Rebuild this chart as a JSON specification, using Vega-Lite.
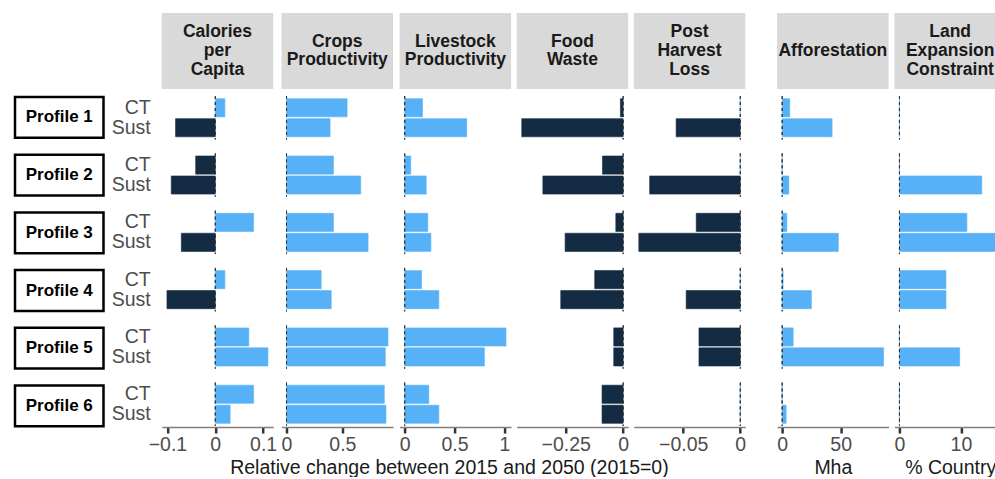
{
  "$schema": "https://vega.github.io/schema/vega-lite/v6.json",
  "padding": {"left": 13, "top": 12, "right": 0, "bottom": 0},
  "datasets": {
    "profiles": [
      {"profile": "Profile 1"}, {"profile": "Profile 2"}, {"profile": "Profile 3"},
      {"profile": "Profile 4"}, {"profile": "Profile 5"}, {"profile": "Profile 6"}
    ],
    "bars": [
      {"panel": "cal", "profile": "Profile 1", "scenario": "CT", "value": 0.020},
      {"panel": "cal", "profile": "Profile 1", "scenario": "Sust", "value": -0.083},
      {"panel": "cal", "profile": "Profile 2", "scenario": "CT", "value": -0.041},
      {"panel": "cal", "profile": "Profile 2", "scenario": "Sust", "value": -0.092},
      {"panel": "cal", "profile": "Profile 3", "scenario": "CT", "value": 0.080},
      {"panel": "cal", "profile": "Profile 3", "scenario": "Sust", "value": -0.071},
      {"panel": "cal", "profile": "Profile 4", "scenario": "CT", "value": 0.020},
      {"panel": "cal", "profile": "Profile 4", "scenario": "Sust", "value": -0.101},
      {"panel": "cal", "profile": "Profile 5", "scenario": "CT", "value": 0.070},
      {"panel": "cal", "profile": "Profile 5", "scenario": "Sust", "value": 0.110},
      {"panel": "cal", "profile": "Profile 6", "scenario": "CT", "value": 0.080},
      {"panel": "cal", "profile": "Profile 6", "scenario": "Sust", "value": 0.031},

      {"panel": "crops", "profile": "Profile 1", "scenario": "CT", "value": 0.542},
      {"panel": "crops", "profile": "Profile 1", "scenario": "Sust", "value": 0.390},
      {"panel": "crops", "profile": "Profile 2", "scenario": "CT", "value": 0.420},
      {"panel": "crops", "profile": "Profile 2", "scenario": "Sust", "value": 0.664},
      {"panel": "crops", "profile": "Profile 3", "scenario": "CT", "value": 0.420},
      {"panel": "crops", "profile": "Profile 3", "scenario": "Sust", "value": 0.730},
      {"panel": "crops", "profile": "Profile 4", "scenario": "CT", "value": 0.310},
      {"panel": "crops", "profile": "Profile 4", "scenario": "Sust", "value": 0.400},
      {"panel": "crops", "profile": "Profile 5", "scenario": "CT", "value": 0.908},
      {"panel": "crops", "profile": "Profile 5", "scenario": "Sust", "value": 0.884},
      {"panel": "crops", "profile": "Profile 6", "scenario": "CT", "value": 0.875},
      {"panel": "crops", "profile": "Profile 6", "scenario": "Sust", "value": 0.890},

      {"panel": "live", "profile": "Profile 1", "scenario": "CT", "value": 0.179},
      {"panel": "live", "profile": "Profile 1", "scenario": "Sust", "value": 0.623},
      {"panel": "live", "profile": "Profile 2", "scenario": "CT", "value": 0.061},
      {"panel": "live", "profile": "Profile 2", "scenario": "Sust", "value": 0.216},
      {"panel": "live", "profile": "Profile 3", "scenario": "CT", "value": 0.232},
      {"panel": "live", "profile": "Profile 3", "scenario": "Sust", "value": 0.263},
      {"panel": "live", "profile": "Profile 4", "scenario": "CT", "value": 0.169},
      {"panel": "live", "profile": "Profile 4", "scenario": "Sust", "value": 0.343},
      {"panel": "live", "profile": "Profile 5", "scenario": "CT", "value": 1.017},
      {"panel": "live", "profile": "Profile 5", "scenario": "Sust", "value": 0.800},
      {"panel": "live", "profile": "Profile 6", "scenario": "CT", "value": 0.242},
      {"panel": "live", "profile": "Profile 6", "scenario": "Sust", "value": 0.343},

      {"panel": "food", "profile": "Profile 1", "scenario": "CT", "value": -0.012},
      {"panel": "food", "profile": "Profile 1", "scenario": "Sust", "value": -0.442},
      {"panel": "food", "profile": "Profile 2", "scenario": "CT", "value": -0.090},
      {"panel": "food", "profile": "Profile 2", "scenario": "Sust", "value": -0.350},
      {"panel": "food", "profile": "Profile 3", "scenario": "CT", "value": -0.032},
      {"panel": "food", "profile": "Profile 3", "scenario": "Sust", "value": -0.253},
      {"panel": "food", "profile": "Profile 4", "scenario": "CT", "value": -0.124},
      {"panel": "food", "profile": "Profile 4", "scenario": "Sust", "value": -0.272},
      {"panel": "food", "profile": "Profile 5", "scenario": "CT", "value": -0.041},
      {"panel": "food", "profile": "Profile 5", "scenario": "Sust", "value": -0.041},
      {"panel": "food", "profile": "Profile 6", "scenario": "CT", "value": -0.092},
      {"panel": "food", "profile": "Profile 6", "scenario": "Sust", "value": -0.092},

      {"panel": "post", "profile": "Profile 1", "scenario": "CT", "value": 0},
      {"panel": "post", "profile": "Profile 1", "scenario": "Sust", "value": -0.0562},
      {"panel": "post", "profile": "Profile 2", "scenario": "CT", "value": 0},
      {"panel": "post", "profile": "Profile 2", "scenario": "Sust", "value": -0.0794},
      {"panel": "post", "profile": "Profile 3", "scenario": "CT", "value": -0.0386},
      {"panel": "post", "profile": "Profile 3", "scenario": "Sust", "value": -0.0889},
      {"panel": "post", "profile": "Profile 4", "scenario": "CT", "value": 0},
      {"panel": "post", "profile": "Profile 4", "scenario": "Sust", "value": -0.0474},
      {"panel": "post", "profile": "Profile 5", "scenario": "CT", "value": -0.0362},
      {"panel": "post", "profile": "Profile 5", "scenario": "Sust", "value": -0.0362},
      {"panel": "post", "profile": "Profile 6", "scenario": "CT", "value": 0},
      {"panel": "post", "profile": "Profile 6", "scenario": "Sust", "value": 0},

      {"panel": "aff", "profile": "Profile 1", "scenario": "CT", "value": 6.5},
      {"panel": "aff", "profile": "Profile 1", "scenario": "Sust", "value": 42.7},
      {"panel": "aff", "profile": "Profile 2", "scenario": "CT", "value": 0},
      {"panel": "aff", "profile": "Profile 2", "scenario": "Sust", "value": 5.7},
      {"panel": "aff", "profile": "Profile 3", "scenario": "CT", "value": 4.0},
      {"panel": "aff", "profile": "Profile 3", "scenario": "Sust", "value": 48.0},
      {"panel": "aff", "profile": "Profile 4", "scenario": "CT", "value": 0.8},
      {"panel": "aff", "profile": "Profile 4", "scenario": "Sust", "value": 25.0},
      {"panel": "aff", "profile": "Profile 5", "scenario": "CT", "value": 9.4},
      {"panel": "aff", "profile": "Profile 5", "scenario": "Sust", "value": 86.7},
      {"panel": "aff", "profile": "Profile 6", "scenario": "CT", "value": 0},
      {"panel": "aff", "profile": "Profile 6", "scenario": "Sust", "value": 3.4},

      {"panel": "land", "profile": "Profile 1", "scenario": "CT", "value": 0},
      {"panel": "land", "profile": "Profile 1", "scenario": "Sust", "value": 0},
      {"panel": "land", "profile": "Profile 2", "scenario": "CT", "value": 0},
      {"panel": "land", "profile": "Profile 2", "scenario": "Sust", "value": 13.4},
      {"panel": "land", "profile": "Profile 3", "scenario": "CT", "value": 10.97},
      {"panel": "land", "profile": "Profile 3", "scenario": "Sust", "value": 16.5},
      {"panel": "land", "profile": "Profile 4", "scenario": "CT", "value": 7.57},
      {"panel": "land", "profile": "Profile 4", "scenario": "Sust", "value": 7.57},
      {"panel": "land", "profile": "Profile 5", "scenario": "CT", "value": 0},
      {"panel": "land", "profile": "Profile 5", "scenario": "Sust", "value": 9.8},
      {"panel": "land", "profile": "Profile 6", "scenario": "CT", "value": 0},
      {"panel": "land", "profile": "Profile 6", "scenario": "Sust", "value": 0}
    ]
  },
  "spacing": 5.7,
  "hconcat": [
    {
      "spacing": 6,
      "vconcat": [
        {"data": {"values": [{}]}, "width": 88.5, "height": 76, "mark": {"type": "text", "text": ""}},
        {
          "data": {"name": "profiles"},
          "facet": {"row": {"field": "profile", "type": "nominal", "header": null}},
          "spacing": {"row": 12.7},
          "spec": {
            "width": 88.5, "height": 40.8,
            "view": {"fill": "white", "stroke": "black", "strokeWidth": 2.5},
            "mark": {"type": "text", "fontSize": 17, "fontWeight": "bold", "color": "#000000"},
            "encoding": {"text": {"field": "profile", "type": "nominal"}}
          }
        }
      ]
    },
    {
      "spacing": 2.8,
      "title": {"text": "Relative change between 2015 and 2050 (2015=0)", "orient": "bottom", "anchor": "middle", "fontSize": 19.5, "fontWeight": "normal", "color": "#1a1a1a", "offset": 5, "dx": 21, "baseline": "top"},
      "hconcat": [
        {
          "spacing": 6,
          "vconcat": [
            {"data": {"values": [{}]}, "width": 111.5, "height": 76, "view": {"fill": "#d9d9d9", "stroke": null},
             "mark": {"type": "text", "text": ["Calories", "per", "Capita"], "fontSize": 17.5, "fontWeight": "bold", "lineHeight": 18.8, "dy": -18.8, "color": "#1a1a1a", "baseline": "middle", "align": "center"}},
            {
              "data": {"name": "bars"},
              "transform": [{"filter": "datum.panel === 'cal'"}],
              "facet": {"row": {"field": "profile", "type": "nominal", "header": null}},
              "spacing": {"row": 12.3},
              "spec": {
                "width": 111.5, "height": 43.5,
                "layer": [
                  {"mark": {"type": "bar", "strokeWidth": 0.6},
                   "encoding": {
                     "y": {"field": "scenario", "type": "nominal", "sort": ["CT", "Sust"], "scale": {"paddingInner": 0.09, "paddingOuter": 0.135}, "axis": {"title": null, "ticks": false, "domain": false, "labelPadding": 11.5, "labelFontSize": 19.5, "labelColor": "#4d4d4d"}},
                     "x": {"field": "value", "type": "quantitative", "scale": {"domain": [-0.112, 0.121], "nice": false}, "axis": {"values": [-0.1, 0, 0.1], "format": ".3~r", "title": null}},
                     "color": {"field": "value", "type": "quantitative", "scale": {"type": "threshold", "domain": [0], "range": ["#132B43", "#56B1F7"]}, "legend": null},
                     "stroke": {"field": "value", "type": "quantitative", "scale": {"type": "threshold", "domain": [0], "range": ["#132B43", "#56B1F7"]}, "legend": null}
                   }},
                  {"mark": {"type": "rule", "strokeDash": [3, 3], "color": "#333333", "strokeWidth": 1}, "encoding": {"x": {"datum": 0}}}
                ]
              }
            }
          ]
        },
        {
          "spacing": 5.1,
          "hconcat": [
            {
              "spacing": 6,
              "vconcat": [
                {"data": {"values": [{}]}, "width": 111.5, "height": 76, "view": {"fill": "#d9d9d9", "stroke": null},
                 "mark": {"type": "text", "text": ["Crops", "Productivity"], "fontSize": 17.5, "fontWeight": "bold", "lineHeight": 18.8, "dy": -9.4, "color": "#1a1a1a", "baseline": "middle", "align": "center"}},
                {
                  "data": {"name": "bars"},
                  "transform": [{"filter": "datum.panel === 'crops'"}],
                  "facet": {"row": {"field": "profile", "type": "nominal", "header": null}},
                  "spacing": {"row": 12.3},
                  "spec": {
                    "width": 111.5, "height": 43.5,
                    "layer": [
                      {"mark": {"type": "bar", "strokeWidth": 0.6},
                       "encoding": {
                         "y": {"field": "scenario", "type": "nominal", "sort": ["CT", "Sust"], "scale": {"paddingInner": 0.09, "paddingOuter": 0.135}, "axis": null},
                         "x": {"field": "value", "type": "quantitative", "scale": {"domain": [-0.045, 0.953], "nice": false}, "axis": {"values": [0, 0.5], "format": ".3~r", "title": null}},
                         "color": {"field": "value", "type": "quantitative", "scale": {"type": "threshold", "domain": [0], "range": ["#132B43", "#56B1F7"]}, "legend": null},
                         "stroke": {"field": "value", "type": "quantitative", "scale": {"type": "threshold", "domain": [0], "range": ["#132B43", "#56B1F7"]}, "legend": null}
                       }},
                      {"mark": {"type": "rule", "strokeDash": [3, 3], "color": "#333333", "strokeWidth": 1}, "encoding": {"x": {"datum": 0}}}
                    ]
                  }
                }
              ]
            },
            {
              "spacing": 6,
              "vconcat": [
                {"data": {"values": [{}]}, "width": 111.5, "height": 76, "view": {"fill": "#d9d9d9", "stroke": null},
                 "mark": {"type": "text", "text": ["Livestock", "Productivity"], "fontSize": 17.5, "fontWeight": "bold", "lineHeight": 18.8, "dy": -9.4, "color": "#1a1a1a", "baseline": "middle", "align": "center"}},
                {
                  "data": {"name": "bars"},
                  "transform": [{"filter": "datum.panel === 'live'"}],
                  "facet": {"row": {"field": "profile", "type": "nominal", "header": null}},
                  "spacing": {"row": 12.3},
                  "spec": {
                    "width": 111.5, "height": 43.5,
                    "layer": [
                      {"mark": {"type": "bar", "strokeWidth": 0.6},
                       "encoding": {
                         "y": {"field": "scenario", "type": "nominal", "sort": ["CT", "Sust"], "scale": {"paddingInner": 0.09, "paddingOuter": 0.135}, "axis": null},
                         "x": {"field": "value", "type": "quantitative", "scale": {"domain": [-0.051, 1.068], "nice": false}, "axis": {"values": [0, 0.5, 1], "format": ".3~r", "title": null}},
                         "color": {"field": "value", "type": "quantitative", "scale": {"type": "threshold", "domain": [0], "range": ["#132B43", "#56B1F7"]}, "legend": null},
                         "stroke": {"field": "value", "type": "quantitative", "scale": {"type": "threshold", "domain": [0], "range": ["#132B43", "#56B1F7"]}, "legend": null}
                       }},
                      {"mark": {"type": "rule", "strokeDash": [3, 3], "color": "#333333", "strokeWidth": 1}, "encoding": {"x": {"datum": 0}}}
                    ]
                  }
                }
              ]
            },
            {
              "spacing": 6,
              "vconcat": [
                {"data": {"values": [{}]}, "width": 111.5, "height": 76, "view": {"fill": "#d9d9d9", "stroke": null},
                 "mark": {"type": "text", "text": ["Food", "Waste"], "fontSize": 17.5, "fontWeight": "bold", "lineHeight": 18.8, "dy": -9.4, "color": "#1a1a1a", "baseline": "middle", "align": "center"}},
                {
                  "data": {"name": "bars"},
                  "transform": [{"filter": "datum.panel === 'food'"}],
                  "facet": {"row": {"field": "profile", "type": "nominal", "header": null}},
                  "spacing": {"row": 12.3},
                  "spec": {
                    "width": 111.5, "height": 43.5,
                    "layer": [
                      {"mark": {"type": "bar", "strokeWidth": 0.6},
                       "encoding": {
                         "y": {"field": "scenario", "type": "nominal", "sort": ["CT", "Sust"], "scale": {"paddingInner": 0.09, "paddingOuter": 0.135}, "axis": null},
                         "x": {"field": "value", "type": "quantitative", "scale": {"domain": [-0.464, 0.022], "nice": false}, "axis": {"values": [-0.25, 0], "format": ".3~r", "title": null}},
                         "color": {"field": "value", "type": "quantitative", "scale": {"type": "threshold", "domain": [0], "range": ["#132B43", "#56B1F7"]}, "legend": null},
                         "stroke": {"field": "value", "type": "quantitative", "scale": {"type": "threshold", "domain": [0], "range": ["#132B43", "#56B1F7"]}, "legend": null}
                       }},
                      {"mark": {"type": "rule", "strokeDash": [3, 3], "color": "#333333", "strokeWidth": 1}, "encoding": {"x": {"datum": 0}}}
                    ]
                  }
                }
              ]
            },
            {
              "spacing": 6,
              "vconcat": [
                {"data": {"values": [{}]}, "width": 111.5, "height": 76, "view": {"fill": "#d9d9d9", "stroke": null},
                 "mark": {"type": "text", "text": ["Post", "Harvest", "Loss"], "fontSize": 17.5, "fontWeight": "bold", "lineHeight": 18.8, "dy": -18.8, "color": "#1a1a1a", "baseline": "middle", "align": "center"}},
                {
                  "data": {"name": "bars"},
                  "transform": [{"filter": "datum.panel === 'post'"}],
                  "facet": {"row": {"field": "profile", "type": "nominal", "header": null}},
                  "spacing": {"row": 12.3},
                  "spec": {
                    "width": 111.5, "height": 43.5,
                    "layer": [
                      {"mark": {"type": "bar", "strokeWidth": 0.6},
                       "encoding": {
                         "y": {"field": "scenario", "type": "nominal", "sort": ["CT", "Sust"], "scale": {"paddingInner": 0.09, "paddingOuter": 0.135}, "axis": null},
                         "x": {"field": "value", "type": "quantitative", "scale": {"domain": [-0.0933, 0.0044], "nice": false}, "axis": {"values": [-0.05, 0], "format": ".3~r", "title": null}},
                         "color": {"field": "value", "type": "quantitative", "scale": {"type": "threshold", "domain": [0], "range": ["#132B43", "#56B1F7"]}, "legend": null},
                         "stroke": {"field": "value", "type": "quantitative", "scale": {"type": "threshold", "domain": [0], "range": ["#132B43", "#56B1F7"]}, "legend": null}
                       }},
                      {"mark": {"type": "rule", "strokeDash": [3, 3], "color": "#333333", "strokeWidth": 1}, "encoding": {"x": {"datum": 0}}}
                    ]
                  }
                }
              ]
            }
          ]
        }
      ]
    },
    {"data": {"values": [{}]}, "width": 17.1, "height": 10, "mark": {"type": "text", "text": ""}},
    {
      "spacing": 4.3,
      "hconcat": [
        {
          "spacing": 6,
          "vconcat": [
            {"data": {"values": [{}]}, "width": 111.5, "height": 76, "view": {"fill": "#d9d9d9", "stroke": null},
             "mark": {"type": "text", "text": "Afforestation", "fontSize": 17.5, "fontWeight": "bold", "color": "#1a1a1a", "baseline": "middle", "align": "center"}},
            {
              "data": {"name": "bars"},
              "transform": [{"filter": "datum.panel === 'aff'"}],
              "facet": {"row": {"field": "profile", "type": "nominal", "header": null}},
              "spacing": {"row": 12.3},
              "spec": {
                "width": 111.5, "height": 43.5,
                "layer": [
                  {"mark": {"type": "bar", "strokeWidth": 0.6},
                   "encoding": {
                     "y": {"field": "scenario", "type": "nominal", "sort": ["CT", "Sust"], "scale": {"paddingInner": 0.09, "paddingOuter": 0.135}, "axis": null},
                     "x": {"field": "value", "type": "quantitative", "scale": {"domain": [-4.33, 91.0], "nice": false}, "axis": {"values": [0, 50], "format": ".3~r", "title": "Mha"}},
                     "color": {"field": "value", "type": "quantitative", "scale": {"type": "threshold", "domain": [0], "range": ["#132B43", "#56B1F7"]}, "legend": null},
                     "stroke": {"field": "value", "type": "quantitative", "scale": {"type": "threshold", "domain": [0], "range": ["#132B43", "#56B1F7"]}, "legend": null}
                   }},
                  {"mark": {"type": "rule", "strokeDash": [3, 3], "color": "#333333", "strokeWidth": 1}, "encoding": {"x": {"datum": 0}}}
                ]
              }
            }
          ]
        },
        {
          "spacing": 6,
          "vconcat": [
            {"data": {"values": [{}]}, "width": 111.5, "height": 76, "view": {"fill": "#d9d9d9", "stroke": null},
             "mark": {"type": "text", "text": ["Land", "Expansion", "Constraint"], "fontSize": 17.5, "fontWeight": "bold", "lineHeight": 18.8, "dy": -18.8, "color": "#1a1a1a", "baseline": "middle", "align": "center"}},
            {
              "data": {"name": "bars"},
              "transform": [{"filter": "datum.panel === 'land'"}],
              "facet": {"row": {"field": "profile", "type": "nominal", "header": null}},
              "spacing": {"row": 12.3},
              "spec": {
                "width": 111.5, "height": 43.5,
                "layer": [
                  {"mark": {"type": "bar", "strokeWidth": 0.6},
                   "encoding": {
                     "y": {"field": "scenario", "type": "nominal", "sort": ["CT", "Sust"], "scale": {"paddingInner": 0.09, "paddingOuter": 0.135}, "axis": null},
                     "x": {"field": "value", "type": "quantitative", "scale": {"domain": [-0.825, 17.325], "nice": false}, "axis": {"values": [0, 10], "format": ".3~r", "title": "% Country"}},
                     "color": {"field": "value", "type": "quantitative", "scale": {"type": "threshold", "domain": [0], "range": ["#132B43", "#56B1F7"]}, "legend": null},
                     "stroke": {"field": "value", "type": "quantitative", "scale": {"type": "threshold", "domain": [0], "range": ["#132B43", "#56B1F7"]}, "legend": null}
                   }},
                  {"mark": {"type": "rule", "strokeDash": [3, 3], "color": "#333333", "strokeWidth": 1}, "encoding": {"x": {"datum": 0}}}
                ]
              }
            }
          ]
        }
      ]
    }
  ],
  "config": {
    "font": "Liberation Sans",
    "view": {"stroke": null},
    "axisX": {
      "grid": false,
      "domainColor": "#7f7f7f",
      "domainWidth": 1.3,
      "tickColor": "#333333",
      "tickWidth": 2.5,
      "tickSize": 6,
      "labelColor": "#4d4d4d",
      "labelFontSize": 19.5,
      "labelPadding": 2,
      "titleFontSize": 19.5,
      "titleFontWeight": "normal",
      "titleColor": "#1a1a1a",
      "titlePadding": 5
    },
    "axisY": {"grid": false}
  }
}
